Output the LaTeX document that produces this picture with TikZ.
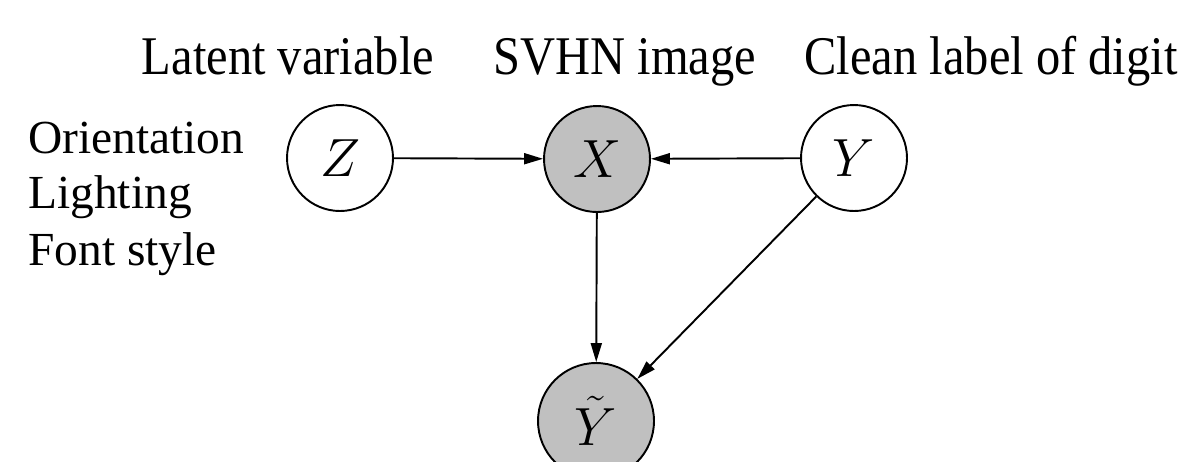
\documentclass[tikz,border=0pt]{standalone}
\usepackage{graphicx}
\usepackage[no-math]{fontspec}
\setmainfont{Liberation Serif}
\newfontfamily\capfont{Liberation Serif}[FakeStretch=0.89]
\usetikzlibrary{arrows.meta}
\definecolor{obsgray}{HTML}{C0C0C0}
\newcommand{\mvar}[1]{\scalebox{1.23}{$#1$}}
\tikzset{
  var/.style={circle,draw,line width=1.1pt,minimum size=2.12cm,inner sep=0pt,
    font=\fontsize{24.88}{30}\selectfont},
  obs/.style={var,fill=obsgray},
  toplabel/.style={anchor=base,inner sep=0pt,font=\capfont\fontsize{31}{36}\selectfont},
  sidelabel/.style={anchor=base west,inner sep=0pt,font=\fontsize{27}{32}\selectfont},
  edge/.style={line width=1.1pt,-{Triangle[length=0.38cm,width=0.22cm]}}
}

\begin{document}
\begin{tikzpicture}[x=0.02cm,y=-0.02cm]
\useasboundingbox (0,0) rectangle (1185,461);
\clip (0,0) rectangle (1185,461);

\node[var](z) at (340,158) {\mvar{Z}};
\node[obs](x) at (597,159) {\mvar{X}};
\node[var](y) at (854,158) {\mvar{Y}};
\node[obs,minimum size=2.32cm](yt) at (596,421) {\mvar{\tilde{Y}}};

\node[toplabel](lz) at (288,74) {Latent variable};
\node[toplabel](lx) at (625,74) {SVHN image};
\node[toplabel](ly) at (991,74) {Clean label of digit};

\node[sidelabel](s1) at (28,153) {Orientation};
\node[sidelabel](s2) at (28,208) {Lighting};
\node[sidelabel](s3) at (28,265) {Font style};

\foreach \from/\to in {z/x, y/x, x/yt, y/yt}
    \draw[edge] (\from) -- (\to);

\end{tikzpicture}
\end{document}
